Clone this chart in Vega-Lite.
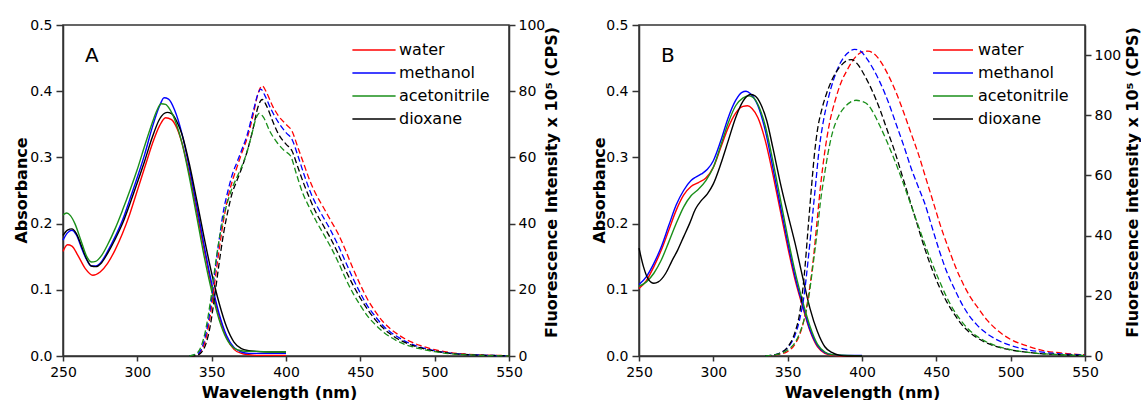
{
"$schema": "https://vega.github.io/schema/vega-lite/v6.json",
"padding": {"left": 12, "top": 17, "right": 0, "bottom": 0},
"spacing": 30,
"config": {
  "font": "DejaVu Sans",
  "view": {"stroke": "#333333", "strokeWidth": 1.5},
  "axis": {"domainColor": "#333333", "domainWidth": 1.5, "tickColor": "#333333", "tickWidth": 1.5, "tickSize": 6, "labelFontSize": 14, "labelColor": "#000000", "titleFontSize": 16, "titleFontWeight": "bold", "titleColor": "#000000", "grid": false, "labelFont": "DejaVu Sans", "titleFont": "DejaVu Sans", "labelFlush": false, "labelOverlap": false},
  "legend": {"labelFont": "DejaVu Sans", "labelFontSize": 16, "labelColor": "#000000"}
},
"resolve": {"legend": {"color": "independent"}},
"datasets": {
"absA": [
{"s":"water","x":250,"y":0.158},{"s":"water","x":253,"y":0.168},{"s":"water","x":256,"y":0.166},{"s":"water","x":260,"y":0.152},{"s":"water","x":265,"y":0.132},{"s":"water","x":270,"y":0.122},{"s":"water","x":275,"y":0.127},{"s":"water","x":280,"y":0.14},{"s":"water","x":285,"y":0.16},{"s":"water","x":290,"y":0.185},{"s":"water","x":295,"y":0.215},{"s":"water","x":300,"y":0.25},{"s":"water","x":305,"y":0.285},{"s":"water","x":310,"y":0.32},{"s":"water","x":315,"y":0.348},{"s":"water","x":319,"y":0.36},{"s":"water","x":323,"y":0.357},{"s":"water","x":327,"y":0.342},{"s":"water","x":330,"y":0.322},{"s":"water","x":335,"y":0.275},{"s":"water","x":340,"y":0.218},{"s":"water","x":345,"y":0.16},{"s":"water","x":350,"y":0.105},{"s":"water","x":355,"y":0.06},{"s":"water","x":360,"y":0.028},{"s":"water","x":365,"y":0.01},{"s":"water","x":370,"y":0.004},{"s":"water","x":375,"y":0.002},{"s":"water","x":380,"y":0.001},{"s":"water","x":390,"y":0.001},{"s":"water","x":400,"y":0.001},
{"s":"methanol","x":250,"y":0.175},{"s":"methanol","x":253,"y":0.186},{"s":"methanol","x":256,"y":0.19},{"s":"methanol","x":259,"y":0.183},{"s":"methanol","x":263,"y":0.16},{"s":"methanol","x":266,"y":0.145},{"s":"methanol","x":269,"y":0.136},{"s":"methanol","x":272,"y":0.136},{"s":"methanol","x":276,"y":0.143},{"s":"methanol","x":280,"y":0.158},{"s":"methanol","x":285,"y":0.18},{"s":"methanol","x":290,"y":0.205},{"s":"methanol","x":295,"y":0.237},{"s":"methanol","x":300,"y":0.27},{"s":"methanol","x":305,"y":0.305},{"s":"methanol","x":310,"y":0.345},{"s":"methanol","x":315,"y":0.378},{"s":"methanol","x":318,"y":0.39},{"s":"methanol","x":321,"y":0.388},{"s":"methanol","x":325,"y":0.372},{"s":"methanol","x":330,"y":0.336},{"s":"methanol","x":335,"y":0.284},{"s":"methanol","x":340,"y":0.226},{"s":"methanol","x":345,"y":0.166},{"s":"methanol","x":350,"y":0.11},{"s":"methanol","x":355,"y":0.064},{"s":"methanol","x":360,"y":0.031},{"s":"methanol","x":365,"y":0.013},{"s":"methanol","x":370,"y":0.006},{"s":"methanol","x":375,"y":0.004},{"s":"methanol","x":380,"y":0.004},{"s":"methanol","x":390,"y":0.004},{"s":"methanol","x":400,"y":0.004},
{"s":"dioxane","x":250,"y":0.182},{"s":"dioxane","x":253,"y":0.19},{"s":"dioxane","x":256,"y":0.192},{"s":"dioxane","x":259,"y":0.185},{"s":"dioxane","x":263,"y":0.163},{"s":"dioxane","x":266,"y":0.146},{"s":"dioxane","x":269,"y":0.136},{"s":"dioxane","x":272,"y":0.135},{"s":"dioxane","x":276,"y":0.141},{"s":"dioxane","x":280,"y":0.155},{"s":"dioxane","x":285,"y":0.176},{"s":"dioxane","x":290,"y":0.2},{"s":"dioxane","x":295,"y":0.23},{"s":"dioxane","x":300,"y":0.262},{"s":"dioxane","x":305,"y":0.295},{"s":"dioxane","x":310,"y":0.33},{"s":"dioxane","x":315,"y":0.358},{"s":"dioxane","x":320,"y":0.368},{"s":"dioxane","x":323,"y":0.366},{"s":"dioxane","x":327,"y":0.352},{"s":"dioxane","x":330,"y":0.335},{"s":"dioxane","x":335,"y":0.29},{"s":"dioxane","x":340,"y":0.235},{"s":"dioxane","x":345,"y":0.178},{"s":"dioxane","x":350,"y":0.125},{"s":"dioxane","x":355,"y":0.08},{"s":"dioxane","x":360,"y":0.044},{"s":"dioxane","x":365,"y":0.021},{"s":"dioxane","x":370,"y":0.011},{"s":"dioxane","x":375,"y":0.008},{"s":"dioxane","x":380,"y":0.007},{"s":"dioxane","x":390,"y":0.006},{"s":"dioxane","x":400,"y":0.006},
{"s":"acetonitrile","x":250,"y":0.213},{"s":"acetonitrile","x":252.5,"y":0.216},{"s":"acetonitrile","x":255,"y":0.212},{"s":"acetonitrile","x":258,"y":0.2},{"s":"acetonitrile","x":262,"y":0.175},{"s":"acetonitrile","x":266,"y":0.15},{"s":"acetonitrile","x":269,"y":0.142},{"s":"acetonitrile","x":272,"y":0.143},{"s":"acetonitrile","x":276,"y":0.152},{"s":"acetonitrile","x":280,"y":0.168},{"s":"acetonitrile","x":285,"y":0.192},{"s":"acetonitrile","x":290,"y":0.22},{"s":"acetonitrile","x":295,"y":0.25},{"s":"acetonitrile","x":300,"y":0.282},{"s":"acetonitrile","x":305,"y":0.318},{"s":"acetonitrile","x":310,"y":0.352},{"s":"acetonitrile","x":313,"y":0.37},{"s":"acetonitrile","x":316,"y":0.381},{"s":"acetonitrile","x":319,"y":0.38},{"s":"acetonitrile","x":322,"y":0.372},{"s":"acetonitrile","x":326,"y":0.352},{"s":"acetonitrile","x":330,"y":0.322},{"s":"acetonitrile","x":335,"y":0.27},{"s":"acetonitrile","x":340,"y":0.21},{"s":"acetonitrile","x":345,"y":0.15},{"s":"acetonitrile","x":350,"y":0.098},{"s":"acetonitrile","x":355,"y":0.055},{"s":"acetonitrile","x":360,"y":0.026},{"s":"acetonitrile","x":365,"y":0.012},{"s":"acetonitrile","x":370,"y":0.008},{"s":"acetonitrile","x":375,"y":0.007},{"s":"acetonitrile","x":380,"y":0.007},{"s":"acetonitrile","x":390,"y":0.006},{"s":"acetonitrile","x":400,"y":0.006}
],
"flA": [
{"s":"water","x":335,"y":0},{"s":"water","x":340,"y":0.3},{"s":"water","x":343,"y":1.5},{"s":"water","x":346,"y":5},{"s":"water","x":349,"y":12},{"s":"water","x":352,"y":22},{"s":"water","x":355,"y":32},{"s":"water","x":358,"y":41},{"s":"water","x":361,"y":48},{"s":"water","x":364,"y":53},{"s":"water","x":367,"y":57},{"s":"water","x":370,"y":61},{"s":"water","x":374,"y":66},{"s":"water","x":378,"y":73},{"s":"water","x":381,"y":79},{"s":"water","x":384,"y":81.6},{"s":"water","x":387,"y":79.5},{"s":"water","x":391,"y":75.5},{"s":"water","x":395,"y":72.5},{"s":"water","x":400,"y":70},{"s":"water","x":404,"y":68},{"s":"water","x":408,"y":63},{"s":"water","x":412,"y":58},{"s":"water","x":416,"y":53},{"s":"water","x":420,"y":49},{"s":"water","x":425,"y":45},{"s":"water","x":430,"y":41},{"s":"water","x":435,"y":37},{"s":"water","x":440,"y":32},{"s":"water","x":445,"y":26.5},{"s":"water","x":450,"y":21.5},{"s":"water","x":455,"y":17},{"s":"water","x":460,"y":13.5},{"s":"water","x":465,"y":10.5},{"s":"water","x":470,"y":8.3},{"s":"water","x":475,"y":6.6},{"s":"water","x":480,"y":5.2},{"s":"water","x":485,"y":4.1},{"s":"water","x":490,"y":3.2},{"s":"water","x":495,"y":2.5},{"s":"water","x":500,"y":1.9},{"s":"water","x":510,"y":1.1},{"s":"water","x":520,"y":0.6},{"s":"water","x":530,"y":0.35},{"s":"water","x":540,"y":0.2},{"s":"water","x":550,"y":0.1},
{"s":"methanol","x":335,"y":0},{"s":"methanol","x":340,"y":0.5},{"s":"methanol","x":343,"y":2},{"s":"methanol","x":346,"y":6.5},{"s":"methanol","x":349,"y":14},{"s":"methanol","x":352,"y":25},{"s":"methanol","x":355,"y":35},{"s":"methanol","x":358,"y":44},{"s":"methanol","x":361,"y":50},{"s":"methanol","x":364,"y":55},{"s":"methanol","x":367,"y":58.5},{"s":"methanol","x":370,"y":62},{"s":"methanol","x":374,"y":67},{"s":"methanol","x":378,"y":74},{"s":"methanol","x":381,"y":79},{"s":"methanol","x":383,"y":80.6},{"s":"methanol","x":386,"y":78.5},{"s":"methanol","x":390,"y":74.5},{"s":"methanol","x":395,"y":70.5},{"s":"methanol","x":400,"y":67.5},{"s":"methanol","x":404,"y":65.5},{"s":"methanol","x":408,"y":60.5},{"s":"methanol","x":412,"y":55},{"s":"methanol","x":416,"y":50},{"s":"methanol","x":420,"y":46},{"s":"methanol","x":425,"y":42},{"s":"methanol","x":430,"y":38},{"s":"methanol","x":435,"y":33.5},{"s":"methanol","x":440,"y":28.5},{"s":"methanol","x":445,"y":23.5},{"s":"methanol","x":450,"y":19},{"s":"methanol","x":455,"y":15},{"s":"methanol","x":460,"y":12},{"s":"methanol","x":465,"y":9.3},{"s":"methanol","x":470,"y":7.3},{"s":"methanol","x":475,"y":5.8},{"s":"methanol","x":480,"y":4.5},{"s":"methanol","x":485,"y":3.5},{"s":"methanol","x":490,"y":2.7},{"s":"methanol","x":495,"y":2.1},{"s":"methanol","x":500,"y":1.6},{"s":"methanol","x":510,"y":0.9},{"s":"methanol","x":520,"y":0.5},{"s":"methanol","x":530,"y":0.3},{"s":"methanol","x":540,"y":0.15},{"s":"methanol","x":550,"y":0.08},
{"s":"dioxane","x":335,"y":0},{"s":"dioxane","x":340,"y":0.2},{"s":"dioxane","x":343,"y":1},{"s":"dioxane","x":346,"y":3.5},{"s":"dioxane","x":349,"y":9},{"s":"dioxane","x":352,"y":18},{"s":"dioxane","x":355,"y":28},{"s":"dioxane","x":358,"y":37},{"s":"dioxane","x":361,"y":44},{"s":"dioxane","x":364,"y":49.5},{"s":"dioxane","x":367,"y":53},{"s":"dioxane","x":370,"y":56.5},{"s":"dioxane","x":374,"y":62},{"s":"dioxane","x":378,"y":69},{"s":"dioxane","x":381,"y":75},{"s":"dioxane","x":384,"y":77.5},{"s":"dioxane","x":387,"y":75.5},{"s":"dioxane","x":391,"y":71},{"s":"dioxane","x":395,"y":67},{"s":"dioxane","x":400,"y":64},{"s":"dioxane","x":404,"y":62},{"s":"dioxane","x":408,"y":57},{"s":"dioxane","x":412,"y":52},{"s":"dioxane","x":416,"y":47.5},{"s":"dioxane","x":420,"y":43.5},{"s":"dioxane","x":425,"y":39.5},{"s":"dioxane","x":430,"y":35.5},{"s":"dioxane","x":435,"y":31},{"s":"dioxane","x":440,"y":26},{"s":"dioxane","x":445,"y":21.5},{"s":"dioxane","x":450,"y":17.5},{"s":"dioxane","x":455,"y":14},{"s":"dioxane","x":460,"y":11},{"s":"dioxane","x":465,"y":8.6},{"s":"dioxane","x":470,"y":6.7},{"s":"dioxane","x":475,"y":5.2},{"s":"dioxane","x":480,"y":4.1},{"s":"dioxane","x":485,"y":3.2},{"s":"dioxane","x":490,"y":2.5},{"s":"dioxane","x":495,"y":1.9},{"s":"dioxane","x":500,"y":1.5},{"s":"dioxane","x":510,"y":0.8},{"s":"dioxane","x":520,"y":0.45},{"s":"dioxane","x":530,"y":0.25},{"s":"dioxane","x":540,"y":0.15},{"s":"dioxane","x":550,"y":0.08},
{"s":"acetonitrile","x":335,"y":0},{"s":"acetonitrile","x":340,"y":0.8},{"s":"acetonitrile","x":343,"y":3},{"s":"acetonitrile","x":346,"y":8},{"s":"acetonitrile","x":349,"y":16},{"s":"acetonitrile","x":352,"y":26},{"s":"acetonitrile","x":355,"y":35},{"s":"acetonitrile","x":358,"y":42},{"s":"acetonitrile","x":361,"y":47},{"s":"acetonitrile","x":364,"y":51},{"s":"acetonitrile","x":367,"y":54},{"s":"acetonitrile","x":370,"y":57},{"s":"acetonitrile","x":374,"y":62},{"s":"acetonitrile","x":377,"y":67},{"s":"acetonitrile","x":380,"y":72},{"s":"acetonitrile","x":382,"y":73.3},{"s":"acetonitrile","x":385,"y":72},{"s":"acetonitrile","x":389,"y":68},{"s":"acetonitrile","x":394,"y":64.5},{"s":"acetonitrile","x":399,"y":62},{"s":"acetonitrile","x":403,"y":60.5},{"s":"acetonitrile","x":407,"y":55},{"s":"acetonitrile","x":411,"y":49.5},{"s":"acetonitrile","x":415,"y":45.5},{"s":"acetonitrile","x":420,"y":41},{"s":"acetonitrile","x":425,"y":37},{"s":"acetonitrile","x":430,"y":33},{"s":"acetonitrile","x":435,"y":28.5},{"s":"acetonitrile","x":440,"y":23.5},{"s":"acetonitrile","x":445,"y":19},{"s":"acetonitrile","x":450,"y":15.3},{"s":"acetonitrile","x":455,"y":12},{"s":"acetonitrile","x":460,"y":9.5},{"s":"acetonitrile","x":465,"y":7.4},{"s":"acetonitrile","x":470,"y":5.8},{"s":"acetonitrile","x":475,"y":4.5},{"s":"acetonitrile","x":480,"y":3.5},{"s":"acetonitrile","x":485,"y":2.8},{"s":"acetonitrile","x":490,"y":2.2},{"s":"acetonitrile","x":495,"y":1.7},{"s":"acetonitrile","x":500,"y":1.3},{"s":"acetonitrile","x":510,"y":0.7},{"s":"acetonitrile","x":520,"y":0.4},{"s":"acetonitrile","x":530,"y":0.2},{"s":"acetonitrile","x":540,"y":0.1},{"s":"acetonitrile","x":550,"y":0.05}
],
"absB": [
{"s":"water","x":250,"y":0.102},{"s":"water","x":255,"y":0.114},{"s":"water","x":260,"y":0.135},{"s":"water","x":265,"y":0.16},{"s":"water","x":270,"y":0.19},{"s":"water","x":275,"y":0.22},{"s":"water","x":280,"y":0.243},{"s":"water","x":285,"y":0.256},{"s":"water","x":290,"y":0.262},{"s":"water","x":295,"y":0.269},{"s":"water","x":300,"y":0.285},{"s":"water","x":305,"y":0.315},{"s":"water","x":310,"y":0.345},{"s":"water","x":315,"y":0.367},{"s":"water","x":320,"y":0.377},{"s":"water","x":323,"y":0.378},{"s":"water","x":326,"y":0.374},{"s":"water","x":330,"y":0.36},{"s":"water","x":335,"y":0.325},{"s":"water","x":340,"y":0.275},{"s":"water","x":345,"y":0.22},{"s":"water","x":350,"y":0.165},{"s":"water","x":355,"y":0.115},{"s":"water","x":360,"y":0.075},{"s":"water","x":365,"y":0.038},{"s":"water","x":370,"y":0.014},{"s":"water","x":375,"y":0.004},{"s":"water","x":380,"y":0.001},{"s":"water","x":390,"y":0},{"s":"water","x":400,"y":0},
{"s":"methanol","x":250,"y":0.108},{"s":"methanol","x":255,"y":0.12},{"s":"methanol","x":260,"y":0.14},{"s":"methanol","x":265,"y":0.165},{"s":"methanol","x":270,"y":0.197},{"s":"methanol","x":275,"y":0.228},{"s":"methanol","x":280,"y":0.25},{"s":"methanol","x":285,"y":0.265},{"s":"methanol","x":288,"y":0.27},{"s":"methanol","x":292,"y":0.275},{"s":"methanol","x":296,"y":0.282},{"s":"methanol","x":300,"y":0.295},{"s":"methanol","x":305,"y":0.325},{"s":"methanol","x":310,"y":0.36},{"s":"methanol","x":315,"y":0.386},{"s":"methanol","x":319,"y":0.398},{"s":"methanol","x":322,"y":0.4},{"s":"methanol","x":325,"y":0.396},{"s":"methanol","x":330,"y":0.378},{"s":"methanol","x":335,"y":0.34},{"s":"methanol","x":340,"y":0.285},{"s":"methanol","x":345,"y":0.228},{"s":"methanol","x":350,"y":0.172},{"s":"methanol","x":355,"y":0.12},{"s":"methanol","x":360,"y":0.078},{"s":"methanol","x":365,"y":0.04},{"s":"methanol","x":370,"y":0.016},{"s":"methanol","x":375,"y":0.005},{"s":"methanol","x":380,"y":0.002},{"s":"methanol","x":390,"y":0.001},{"s":"methanol","x":400,"y":0.001},
{"s":"acetonitrile","x":250,"y":0.105},{"s":"acetonitrile","x":255,"y":0.112},{"s":"acetonitrile","x":260,"y":0.125},{"s":"acetonitrile","x":265,"y":0.145},{"s":"acetonitrile","x":270,"y":0.172},{"s":"acetonitrile","x":275,"y":0.2},{"s":"acetonitrile","x":280,"y":0.225},{"s":"acetonitrile","x":285,"y":0.242},{"s":"acetonitrile","x":290,"y":0.252},{"s":"acetonitrile","x":295,"y":0.265},{"s":"acetonitrile","x":300,"y":0.285},{"s":"acetonitrile","x":305,"y":0.318},{"s":"acetonitrile","x":310,"y":0.352},{"s":"acetonitrile","x":315,"y":0.378},{"s":"acetonitrile","x":320,"y":0.39},{"s":"acetonitrile","x":324,"y":0.393},{"s":"acetonitrile","x":327,"y":0.39},{"s":"acetonitrile","x":330,"y":0.38},{"s":"acetonitrile","x":335,"y":0.347},{"s":"acetonitrile","x":340,"y":0.295},{"s":"acetonitrile","x":345,"y":0.238},{"s":"acetonitrile","x":350,"y":0.18},{"s":"acetonitrile","x":355,"y":0.127},{"s":"acetonitrile","x":360,"y":0.083},{"s":"acetonitrile","x":365,"y":0.045},{"s":"acetonitrile","x":370,"y":0.018},{"s":"acetonitrile","x":375,"y":0.006},{"s":"acetonitrile","x":380,"y":0.002},{"s":"acetonitrile","x":390,"y":0.001},{"s":"acetonitrile","x":400,"y":0},
{"s":"dioxane","x":250,"y":0.163},{"s":"dioxane","x":253,"y":0.135},{"s":"dioxane","x":256,"y":0.117},{"s":"dioxane","x":260,"y":0.11},{"s":"dioxane","x":263,"y":0.112},{"s":"dioxane","x":268,"y":0.125},{"s":"dioxane","x":272,"y":0.143},{"s":"dioxane","x":276,"y":0.16},{"s":"dioxane","x":280,"y":0.18},{"s":"dioxane","x":284,"y":0.2},{"s":"dioxane","x":288,"y":0.222},{"s":"dioxane","x":292,"y":0.235},{"s":"dioxane","x":296,"y":0.245},{"s":"dioxane","x":300,"y":0.26},{"s":"dioxane","x":305,"y":0.29},{"s":"dioxane","x":310,"y":0.325},{"s":"dioxane","x":315,"y":0.36},{"s":"dioxane","x":320,"y":0.385},{"s":"dioxane","x":325,"y":0.395},{"s":"dioxane","x":328,"y":0.393},{"s":"dioxane","x":332,"y":0.38},{"s":"dioxane","x":336,"y":0.355},{"s":"dioxane","x":340,"y":0.315},{"s":"dioxane","x":345,"y":0.262},{"s":"dioxane","x":350,"y":0.215},{"s":"dioxane","x":355,"y":0.17},{"s":"dioxane","x":360,"y":0.12},{"s":"dioxane","x":365,"y":0.072},{"s":"dioxane","x":370,"y":0.037},{"s":"dioxane","x":375,"y":0.014},{"s":"dioxane","x":380,"y":0.005},{"s":"dioxane","x":385,"y":0.001},{"s":"dioxane","x":390,"y":0},{"s":"dioxane","x":400,"y":0}
],
"flB": [
{"s":"water","x":335,"y":0},{"s":"water","x":340,"y":0.2},{"s":"water","x":345,"y":0.6},{"s":"water","x":350,"y":1.5},{"s":"water","x":355,"y":4},{"s":"water","x":358,"y":7},{"s":"water","x":361,"y":12},{"s":"water","x":364,"y":20},{"s":"water","x":367,"y":31},{"s":"water","x":370,"y":46},{"s":"water","x":372,"y":56},{"s":"water","x":375,"y":68},{"s":"water","x":378,"y":77},{"s":"water","x":382,"y":85},{"s":"water","x":386,"y":91},{"s":"water","x":390,"y":95},{"s":"water","x":395,"y":99},{"s":"water","x":400,"y":101},{"s":"water","x":404,"y":101.3},{"s":"water","x":408,"y":100.5},{"s":"water","x":413,"y":97.5},{"s":"water","x":418,"y":93},{"s":"water","x":423,"y":87.5},{"s":"water","x":428,"y":81},{"s":"water","x":433,"y":74},{"s":"water","x":438,"y":67},{"s":"water","x":443,"y":59},{"s":"water","x":448,"y":51},{"s":"water","x":453,"y":43},{"s":"water","x":458,"y":36},{"s":"water","x":463,"y":29.5},{"s":"water","x":468,"y":24},{"s":"water","x":473,"y":19.5},{"s":"water","x":478,"y":16},{"s":"water","x":484,"y":12},{"s":"water","x":490,"y":9},{"s":"water","x":500,"y":5.5},{"s":"water","x":510,"y":3.5},{"s":"water","x":520,"y":2},{"s":"water","x":530,"y":1.2},{"s":"water","x":540,"y":0.7},{"s":"water","x":550,"y":0.4},
{"s":"methanol","x":335,"y":0},{"s":"methanol","x":340,"y":0.3},{"s":"methanol","x":345,"y":1},{"s":"methanol","x":350,"y":2.8},{"s":"methanol","x":355,"y":7},{"s":"methanol","x":358,"y":12},{"s":"methanol","x":361,"y":20},{"s":"methanol","x":364,"y":33},{"s":"methanol","x":367,"y":48},{"s":"methanol","x":369,"y":58},{"s":"methanol","x":371,"y":68},{"s":"methanol","x":374,"y":78},{"s":"methanol","x":377,"y":85},{"s":"methanol","x":381,"y":92},{"s":"methanol","x":385,"y":97},{"s":"methanol","x":390,"y":100.5},{"s":"methanol","x":395,"y":101.9},{"s":"methanol","x":399,"y":101.3},{"s":"methanol","x":403,"y":99},{"s":"methanol","x":408,"y":95},{"s":"methanol","x":413,"y":90},{"s":"methanol","x":418,"y":84},{"s":"methanol","x":423,"y":77},{"s":"methanol","x":428,"y":70},{"s":"methanol","x":433,"y":62.5},{"s":"methanol","x":438,"y":56},{"s":"methanol","x":442,"y":51},{"s":"methanol","x":447,"y":43},{"s":"methanol","x":452,"y":35},{"s":"methanol","x":457,"y":28},{"s":"methanol","x":462,"y":22.5},{"s":"methanol","x":467,"y":17.5},{"s":"methanol","x":472,"y":13.5},{"s":"methanol","x":477,"y":10.5},{"s":"methanol","x":482,"y":8.2},{"s":"methanol","x":490,"y":5.6},{"s":"methanol","x":500,"y":3.5},{"s":"methanol","x":510,"y":2.2},{"s":"methanol","x":520,"y":1.4},{"s":"methanol","x":530,"y":0.8},{"s":"methanol","x":540,"y":0.5},{"s":"methanol","x":550,"y":0.3},
{"s":"dioxane","x":335,"y":0},{"s":"dioxane","x":340,"y":0.3},{"s":"dioxane","x":345,"y":1},{"s":"dioxane","x":350,"y":3},{"s":"dioxane","x":355,"y":8},{"s":"dioxane","x":358,"y":14},{"s":"dioxane","x":361,"y":26},{"s":"dioxane","x":364,"y":44},{"s":"dioxane","x":366,"y":56},{"s":"dioxane","x":368,"y":67},{"s":"dioxane","x":370,"y":75},{"s":"dioxane","x":373,"y":82},{"s":"dioxane","x":376,"y":87},{"s":"dioxane","x":380,"y":92},{"s":"dioxane","x":385,"y":96},{"s":"dioxane","x":390,"y":98.2},{"s":"dioxane","x":393,"y":98.5},{"s":"dioxane","x":397,"y":97},{"s":"dioxane","x":402,"y":93},{"s":"dioxane","x":407,"y":88},{"s":"dioxane","x":412,"y":82},{"s":"dioxane","x":417,"y":75},{"s":"dioxane","x":422,"y":68},{"s":"dioxane","x":427,"y":60},{"s":"dioxane","x":432,"y":52},{"s":"dioxane","x":437,"y":44},{"s":"dioxane","x":442,"y":36},{"s":"dioxane","x":447,"y":29},{"s":"dioxane","x":452,"y":23},{"s":"dioxane","x":457,"y":18},{"s":"dioxane","x":462,"y":14},{"s":"dioxane","x":467,"y":10.5},{"s":"dioxane","x":472,"y":8},{"s":"dioxane","x":480,"y":5.3},{"s":"dioxane","x":490,"y":3.2},{"s":"dioxane","x":500,"y":2},{"s":"dioxane","x":510,"y":1.3},{"s":"dioxane","x":520,"y":0.8},{"s":"dioxane","x":530,"y":0.5},{"s":"dioxane","x":540,"y":0.3},{"s":"dioxane","x":550,"y":0.2},
{"s":"acetonitrile","x":335,"y":0},{"s":"acetonitrile","x":340,"y":0.3},{"s":"acetonitrile","x":345,"y":0.8},{"s":"acetonitrile","x":350,"y":2},{"s":"acetonitrile","x":355,"y":4.5},{"s":"acetonitrile","x":358,"y":7.5},{"s":"acetonitrile","x":361,"y":12},{"s":"acetonitrile","x":364,"y":19},{"s":"acetonitrile","x":367,"y":30},{"s":"acetonitrile","x":370,"y":42},{"s":"acetonitrile","x":372,"y":51},{"s":"acetonitrile","x":375,"y":61},{"s":"acetonitrile","x":377,"y":67},{"s":"acetonitrile","x":380,"y":74},{"s":"acetonitrile","x":384,"y":79.5},{"s":"acetonitrile","x":388,"y":82.5},{"s":"acetonitrile","x":392,"y":84.3},{"s":"acetonitrile","x":396,"y":85},{"s":"acetonitrile","x":400,"y":84.6},{"s":"acetonitrile","x":404,"y":83.5},{"s":"acetonitrile","x":408,"y":80.5},{"s":"acetonitrile","x":412,"y":76.5},{"s":"acetonitrile","x":417,"y":71},{"s":"acetonitrile","x":422,"y":65},{"s":"acetonitrile","x":427,"y":58.5},{"s":"acetonitrile","x":432,"y":51.5},{"s":"acetonitrile","x":437,"y":44.5},{"s":"acetonitrile","x":442,"y":37.5},{"s":"acetonitrile","x":447,"y":31},{"s":"acetonitrile","x":452,"y":25},{"s":"acetonitrile","x":457,"y":19.5},{"s":"acetonitrile","x":462,"y":15},{"s":"acetonitrile","x":467,"y":11.5},{"s":"acetonitrile","x":472,"y":8.7},{"s":"acetonitrile","x":480,"y":5.7},{"s":"acetonitrile","x":490,"y":3.4},{"s":"acetonitrile","x":500,"y":2.1},{"s":"acetonitrile","x":510,"y":1.3},{"s":"acetonitrile","x":520,"y":0.8},{"s":"acetonitrile","x":530,"y":0.5},{"s":"acetonitrile","x":540,"y":0.3},{"s":"acetonitrile","x":550,"y":0.2}
]
},
"hconcat": [
{
  "width": 446, "height": 331,
  "title": {"text": "A", "anchor": "start", "frame": "group", "dx": 22, "dy": 52, "fontSize": 20, "fontWeight": "normal", "font": "DejaVu Sans", "color": "#000000"},
  "layer": [
    {"data": {"name": "absA"}, "mark": {"type": "line", "interpolate": "monotone", "strokeWidth": 1.4},
     "encoding": {
       "x": {"field": "x", "type": "quantitative", "scale": {"domain": [250, 550], "nice": false, "zero": false}, "axis": {"values": [250,300,350,400,450,500,550], "title": "Wavelength (nm)", "tickSize": 5, "labelPadding": 4, "titleX": 216, "titleY": 41, "titleBaseline": "alphabetic", "titleAlign": "center"}},
       "y": {"field": "y", "type": "quantitative", "scale": {"domain": [0, 0.5], "nice": false}, "axis": {"values": [0,0.1,0.2,0.3,0.4,0.5], "format": ".1f", "title": "Absorbance", "tickSize": 7, "labelPadding": 4, "titleAngle": 270, "titleX": -37, "titleY": 165, "titleBaseline": "alphabetic", "titleAlign": "center"}},
       "color": {"field": "s", "type": "nominal", "scale": {"domain": ["water","methanol","acetonitrile","dioxane"], "range": ["#ff0000","#0000ff","#1a8f1a","#000000"]},
         "legend": {"title": null, "orient": "none", "legendX": 302, "legendY": 16, "symbolType": "M-2.7,0H2.7", "symbolSize": 256, "symbolStrokeWidth": 1.5, "rowPadding": 6, "labelOffset": 16, "padding": 0}}
     }},
    {"data": {"name": "flA"}, "mark": {"type": "line", "interpolate": "monotone", "strokeWidth": 1.3, "strokeDash": [6, 3]},
     "encoding": {
       "x": {"field": "x", "type": "quantitative", "scale": {"domain": [250, 550], "nice": false, "zero": false}},
       "y": {"field": "y", "type": "quantitative", "scale": {"domain": [0, 100], "nice": false}, "axis": {"orient": "right", "values": [0,20,40,60,80,100], "title": "Fluorescence Intensity x 10⁵ (CPS)", "tickSize": 6, "labelPadding": 3, "titleAngle": 270, "titleX": 47, "titleY": 157, "titleBaseline": "alphabetic", "titleAlign": "center"}},
       "color": {"field": "s", "type": "nominal", "legend": null}
     }}
  ],
  "resolve": {"scale": {"y": "independent"}}
},
{
  "width": 446, "height": 331,
  "title": {"text": "B", "anchor": "start", "frame": "group", "dx": 22, "dy": 52, "fontSize": 20, "fontWeight": "normal", "font": "DejaVu Sans", "color": "#000000"},
  "layer": [
    {"data": {"name": "absB"}, "mark": {"type": "line", "interpolate": "monotone", "strokeWidth": 1.4},
     "encoding": {
       "x": {"field": "x", "type": "quantitative", "scale": {"domain": [250, 550], "nice": false, "zero": false}, "axis": {"values": [250,300,350,400,450,500,550], "title": "Wavelength (nm)", "tickSize": 5, "labelPadding": 4, "titleX": 223, "titleY": 41, "titleBaseline": "alphabetic", "titleAlign": "center"}},
       "y": {"field": "y", "type": "quantitative", "scale": {"domain": [0, 0.5], "nice": false}, "axis": {"values": [0,0.1,0.2,0.3,0.4,0.5], "format": ".1f", "title": "Absorbance", "tickSize": 7, "labelPadding": 4, "titleAngle": 270, "titleX": -35, "titleY": 165, "titleBaseline": "alphabetic", "titleAlign": "center"}},
       "color": {"field": "s", "type": "nominal", "scale": {"domain": ["water","methanol","acetonitrile","dioxane"], "range": ["#ff0000","#0000ff","#1a8f1a","#000000"]},
         "legend": {"title": null, "orient": "none", "legendX": 305, "legendY": 16, "symbolType": "M-2.5,0H2.5", "symbolSize": 256, "symbolStrokeWidth": 1.5, "rowPadding": 6, "labelOffset": 16, "padding": 0}}
     }},
    {"data": {"name": "flB"}, "mark": {"type": "line", "interpolate": "monotone", "strokeWidth": 1.3, "strokeDash": [6, 3]},
     "encoding": {
       "x": {"field": "x", "type": "quantitative", "scale": {"domain": [250, 550], "nice": false, "zero": false}},
       "y": {"field": "y", "type": "quantitative", "scale": {"domain": [0, 110], "nice": false}, "axis": {"orient": "right", "values": [0,20,40,60,80,100], "title": "Fluorescence intensity x 10⁵ (CPS)", "tickSize": 6, "labelPadding": 3, "titleAngle": 270, "titleX": 52, "titleY": 157, "titleBaseline": "alphabetic", "titleAlign": "center"}},
       "color": {"field": "s", "type": "nominal", "legend": null}
     }}
  ],
  "resolve": {"scale": {"y": "independent"}}
}
]
}
